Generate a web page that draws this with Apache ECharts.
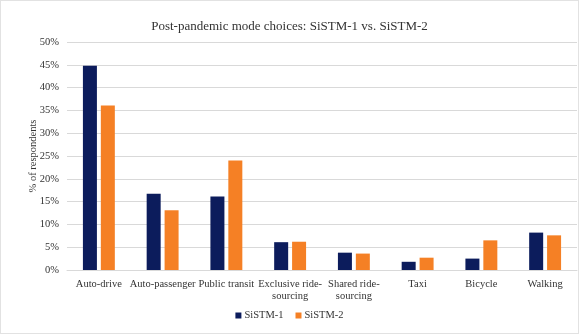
<!DOCTYPE html>
<html>
<head>
<meta charset="utf-8">
<script src="https://cdn.jsdelivr.net/npm/echarts@6/dist/echarts.min.js"></script>
<style>
  html, body { margin: 0; padding: 0; background: #fff; }
  #chart { width: 577px; height: 332px; border: 1px solid #e2e2e2; }
</style>
</head>
<body>
<div id="chart"></div>
<script>
// Mode categories (x axis)
const modes = [
  'Auto-drive', 'Auto-passenger', 'Public transit', 'Exclusive ride-\nsourcing',
  'Shared ride-\nsourcing', 'Taxi', 'Bicycle', 'Walking'
];
// Share of respondents, percent
const sistm1 = [44.8, 16.7, 16.1, 6.1, 3.8, 1.8, 2.5, 8.2];
const sistm2 = [36.1, 13.1, 24.0, 6.2, 3.6, 2.7, 6.5, 7.6];
const seriesNames = ['SiSTM-1', 'SiSTM-2'];

const serif = '"Liberation Serif", "Times New Roman", serif';
const chart = echarts.init(document.getElementById('chart'));
chart.setOption({
  animation: false,
  textStyle: { fontFamily: serif },
  title: {
    text: 'Post-pandemic mode choices: SiSTM-1 vs. SiSTM-2',
    left: 'center', top: 14,
    textStyle: { fontFamily: serif, fontSize: 13, fontWeight: 'normal', color: '#333' }
  },
  legend: {
    data: seriesNames,
    bottom: 7, left: 'center',
    itemWidth: 6, itemHeight: 6, itemGap: 12,
    icon: 'rect',
    textStyle: { fontFamily: serif, fontSize: 10.5, color: '#333', padding: [0, 0, 0, -2] }
  },
  grid: { left: 66, right: 1, top: 41, bottom: 63, containLabel: false },
  xAxis: {
    type: 'category',
    data: modes,
    axisTick: { show: false },
    axisLine: { lineStyle: { color: '#d9d9d9' } },
    axisLabel: { fontFamily: serif, fontSize: 10.5, color: '#333', interval: 0, margin: 8, lineHeight: 12 }
  },
  yAxis: {
    type: 'value',
    min: 0, max: 50, interval: 5,
    name: '% of respondents',
    nameLocation: 'middle', nameGap: 28, nameMoveOverlap: false,
    nameTextStyle: { fontFamily: serif, fontSize: 10.5, color: '#333' },
    axisLabel: { formatter: '{value}%', fontFamily: serif, fontSize: 10.5, color: '#333', margin: 8 },
    splitLine: { lineStyle: { color: '#d9d9d9' } },
    axisLine: { show: false }, axisTick: { show: false }
  },
  series: [
    { name: seriesNames[0], type: 'bar', data: sistm1, barWidth: 14, barGap: '28%',
      itemStyle: { color: '#0c1c5c' } },
    { name: seriesNames[1], type: 'bar', data: sistm2, barWidth: 14,
      itemStyle: { color: '#f58025' } }
  ]
});
</script>
</body>
</html>
